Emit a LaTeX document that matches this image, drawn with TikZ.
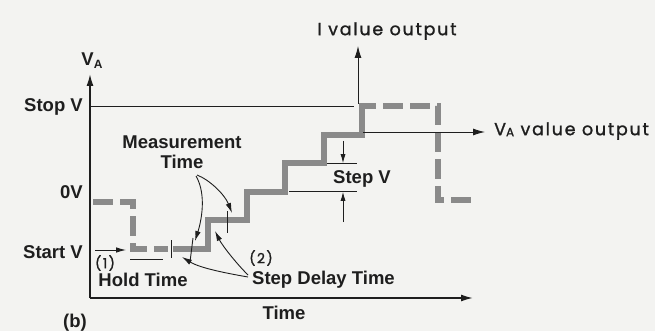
\documentclass[tikz,border=0pt]{standalone}
\usepackage{fontspec}
\setmainfont{Liberation Sans}
\newfontfamily\geo[LetterSpace=10,FakeBold=1.2]{Poppins}
\usetikzlibrary{arrows.meta}
\definecolor{paper}{HTML}{F3F3F1}
\definecolor{stair}{HTML}{8A8A8A}
\definecolor{ink}{HTML}{1E1E1E}
\tikzset{
  lbl/.style={font=\fontsize{18.5}{20}\selectfont\bfseries, text=ink, inner sep=0pt},
  geolbl/.style={font=\geo\fontsize{17.5}{17.5}\selectfont, text=ink, inner sep=0pt},
  axisline/.style={ink, line width=1.6pt},
  thinline/.style={ink, line width=0.9pt},
  stairline/.style={stair, line width=6pt, line join=miter},
  dashstair/.style={stairline, dash pattern=on 20pt off 7pt},
  arrowtip/.style={-{Latex[length=12pt,width=7pt]}},
  curvearrow/.style={thinline, -{Latex[length=10pt,width=5.5pt]}}
}
\begin{document}
\begin{tikzpicture}[x=1pt,y=-1pt]
\fill[paper] (0,0) rectangle (655,331);
\useasboundingbox (0,0) rectangle (655,331);

% axes
\coordinate (O) at (90,298);
\coordinate (ytop) at (90,74);
\coordinate (xend) at (473,298);
\draw[axisline, arrowtip] (O) -- (ytop);
\draw[axisline, arrowtip] (O) -- (xend);

% stop V line and I output
\coordinate (stopL) at (90,106);
\coordinate (stopR) at (354,106);
\draw[thinline] (stopL) -- (stopR);
\coordinate (ibase) at (358,104);
\coordinate (itop) at (358,46);
\draw[thinline, arrowtip] (ibase) -- (itop);

% staircase
\draw[dashstair] (93,202) -- (133,202) -- (133,249) -- (168,249);
\draw[stairline] (173,249) -- (208,249) -- (208,220.4) -- (246.5,220.4) -- (246.5,191.8)
  -- (285,191.8) -- (285,163.2) -- (323.5,163.2) -- (323.5,134.6) -- (362,134.6) -- (362,103);
\draw[dashstair, dash phase=3pt] (359,106) -- (438,106) -- (438,200) -- (477,200);

% VA output arrow
\coordinate (vabase) at (363,132);
\coordinate (vatip) at (485,132);
\draw[thinline, arrowtip] (vabase) -- (vatip);

% step V markers
\coordinate (svU1) at (327,163.2); \coordinate (svU2) at (357,163.2);
\coordinate (svL1) at (289,191.8); \coordinate (svL2) at (357,191.8);
\draw[thinline] (svU1) -- (svU2);
\draw[thinline] (svL1) -- (svL2);
\coordinate (sva) at (343,141); \coordinate (svb) at (343,163.2);
\coordinate (svc) at (343,222); \coordinate (svd) at (343,191.8);
\draw[thinline, -{Latex[length=9pt,width=5pt]}] (sva) -- (svb);
\draw[thinline, -{Latex[length=9pt,width=5pt]}] (svc) -- (svd);

% ticks
\coordinate (t1a) at (171,240); \coordinate (t1b) at (171,258);
\coordinate (t2a) at (193,238); \coordinate (t2b) at (190,262);
\coordinate (t3a) at (227,211); \coordinate (t3b) at (227,233);
\draw[thinline] (t1a) -- (t1b);
\draw[thinline] (t2a) -- (t2b);
\draw[thinline] (t3a) -- (t3b);

% hold time markers
\coordinate (h1) at (95,250); \coordinate (h2) at (126,250);
\draw[thinline, -{Latex[length=10pt,width=5.5pt]}] (h1) -- (h2);
\coordinate (hu1) at (130,259); \coordinate (hu2) at (163,259);
\draw[ink, line width=0.7pt] (hu1) -- (hu2);

% labels
\node[lbl] (va) at (92,61) {V\raisebox{-3pt}{\fontsize{12}{12}\selectfont A}};
\node[lbl, anchor=east] (stopv) at (83,107) {Stop V};
\node[lbl, anchor=east] (zerov) at (83,192) {0V};
\node[lbl, anchor=east] (startv) at (83,252) {Start V};
\node[geolbl, font=\geo\fontsize{14}{14}\selectfont] (one) at (105,263) {(1)};
\node[geolbl, font=\geo\fontsize{14}{14}\selectfont] (two) at (261,258) {(2)};
\node[lbl] (hold) at (143,280) {Hold Time};
\node[lbl, anchor=west] (sdt) at (252,280) {Step Delay Time};
\node[lbl, align=center] (meas) at (182,152) {Measurement\\Time};
\node[lbl] (stepv) at (362,179) {Step V};
\node[lbl] (time) at (284,313) {Time};
\node[lbl] (b) at (75,323) {(b)};
\node[geolbl] (iout) at (387,31) {I value output};
\node[geolbl, anchor=west] (vaout) at (494,131) {V\raisebox{-1pt}{\fontsize{12}{12}\selectfont A} value output};

% curved arrows
\coordinate (mA) at (196,176); \coordinate (mAt) at (195,241);
\coordinate (mB) at (197,175); \coordinate (mBt) at (232,213);
\draw[curvearrow] (mA) .. controls (207,195) and (201,222) .. (mAt);
\draw[curvearrow] (mB) .. controls (210,180) and (225,195) .. (mBt);
\coordinate (dC) at (248,277); \coordinate (dCt) at (182,257);
\coordinate (dD) at (248,275); \coordinate (dDt) at (215,231);
\draw[curvearrow] (dC) .. controls (225,273) and (200,268) .. (dCt);
\draw[curvearrow] (dD) .. controls (235,262) and (222,245) .. (dDt);
\end{tikzpicture}
\end{document}
